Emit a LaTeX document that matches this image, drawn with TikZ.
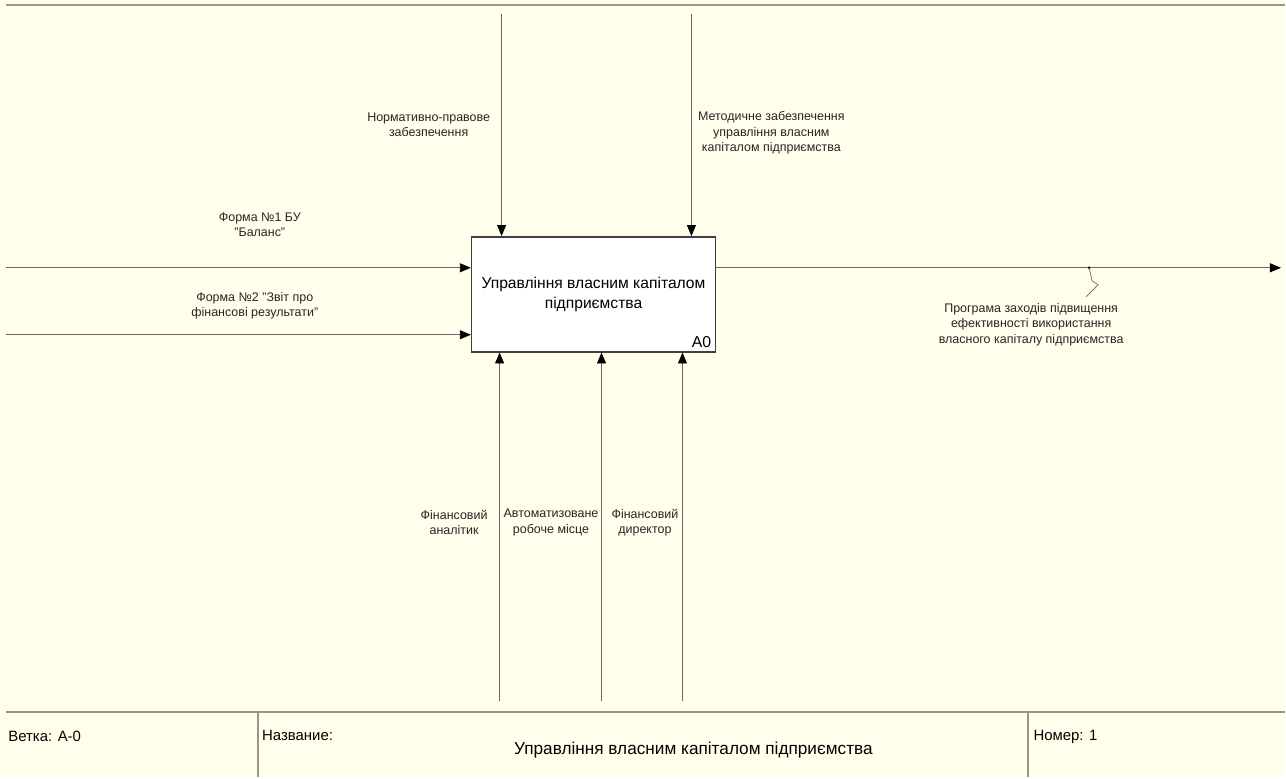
\documentclass[tikz,border=0pt]{standalone}
\usepackage{fontspec}
\setmainfont{Liberation Sans}
\definecolor{paper}{RGB}{255,255,235}
\definecolor{rule}{RGB}{150,150,135}
\definecolor{wire}{RGB}{105,105,100}
\usetikzlibrary{arrows.meta,positioning,calc}

\begin{document}
\begin{tikzpicture}[x=0.02cm,y=-0.02cm,
  funcbox/.style={draw=black!75,fill=white,line width=0.9pt,minimum width=4.88cm,minimum height=2.3cm,
                  inner sep=0pt,align=center,font=\fontsize{8.9}{11.3}\selectfont},
  wirelbl/.style={font=\fontsize{7.1}{8.7}\selectfont,align=center,text=black!85,inner sep=1pt},
  arc/.style={draw=wire,line width=0.5pt,-{Triangle[length=2.2mm,width=1.8mm,color=black]}},
  ftext/.style={font=\fontsize{8.5}{10}\selectfont,inner sep=0pt}]
  % background and frame
  \fill[paper] (0,0) rectangle (1286,778);
  \draw[rule,line width=1.2pt] (6,5) -- (1286,5);
  % function
  \node[funcbox] (fn) at (594,294.5) {Управління власним капіталом\\підприємства};
  \node[font=\fontsize{9}{10}\selectfont,anchor=south east,inner sep=0pt] (fnnum) at (712,348) {A0};
  % free ends
  \coordinate (ctlA) at (502,14);
  \coordinate (ctlB) at (692,14);
  \coordinate (inA) at (6,268);
  \coordinate (inB) at (6,335);
  \coordinate (outA) at (1282,268);
  \coordinate (mecA) at (500,702);
  \coordinate (mecB) at (602,702);
  \coordinate (mecC) at (683,702);
  % arrows
  \draw[arc] (ctlA) -- (ctlA |- fn.north);
  \draw[arc] (ctlB) -- (ctlB |- fn.north);
  \draw[arc] (inA) -- (inA -| fn.west);
  \draw[arc] (inB) -- (inB -| fn.west);
  \draw[arc] (fn.east |- outA) -- (outA);
  \foreach \m in {mecA,mecB,mecC}
    \draw[arc] (\m) -- (\m |- fn.south);
  % squiggle
  \coordinate (tick) at (1090,268);
  \fill[black] (tick) circle (1.5);
  \draw[wire,line width=0.4pt] (tick) -- ++(3,13) -- ++(6,4) -- ++(-12,12);
  % labels
  \node[wirelbl] (ctlAlbl) at (429,125) {Нормативно-правове\\забезпечення};
  \node[wirelbl] (ctlBlbl) at (772,133) {Методичне забезпечення\\управління власним\\капіталом підприємства};
  \node[wirelbl] (inAlbl) at (260,225) {Форма №1 БУ\\"Баланс"};
  \node[wirelbl] (inBlbl) at (255,306) {Форма №2 "Звіт про\\фінансові результати"};
  \node[wirelbl] (outlbl) at (1032,325) {Програма заходів підвищення\\ефективності використання\\власного капіталу підприємства};
  \node[wirelbl,anchor=east] (mecAlbl) at (490,523) {Фінансовий\\аналітик};
  \node[wirelbl,anchor=east] (mecBlbl) at (601,523) {Автоматизоване\\робоче місце};
  \node[wirelbl,anchor=east] (mecClbl) at (681,523) {Фінансовий\\директор};
  % footer
  \draw[rule,line width=1.2pt] (6,713) -- (1286,713);
  \draw[rule,line width=1pt] (258,713) -- (258,778);
  \draw[rule,line width=1pt] (1029,713) -- (1029,778);
  \node[ftext,anchor=west] (branch) at (8,737) {Ветка: A-0};
  \node[ftext,anchor=west] (title) at (262,736) {Название:};
  \node[ftext,font=\fontsize{9.8}{11}\selectfont] (name) at (694,751) {Управління власним капіталом підприємства};
  \node[ftext,anchor=west] (num) at (1034,737) {Номер: 1};
\end{tikzpicture}
\end{document}
